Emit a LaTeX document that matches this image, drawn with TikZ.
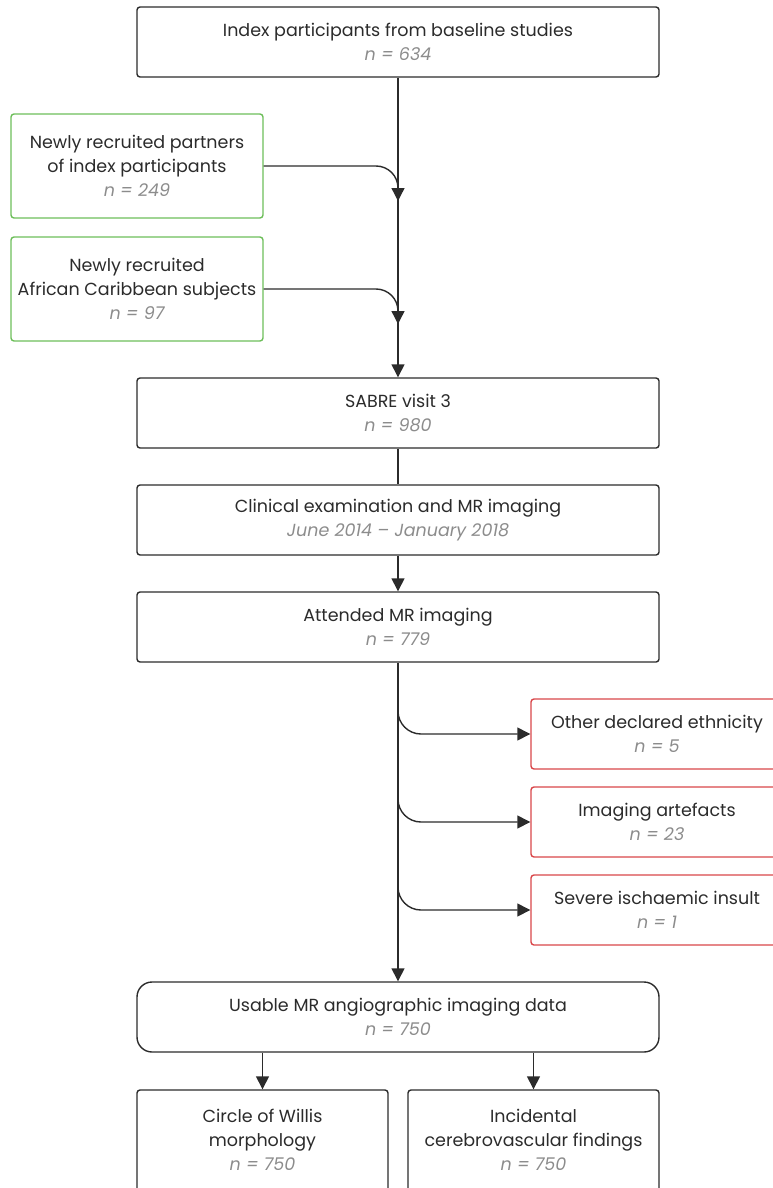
\documentclass[tikz,border=0pt]{standalone}
\usepackage{fontspec}
\setmainfont{Poppins}
\usetikzlibrary{arrows.meta}
\definecolor{ink}{HTML}{2B2B2B}
\definecolor{ngray}{HTML}{8C8C8C}
\definecolor{grn}{HTML}{6DBE5A}
\definecolor{rd}{HTML}{D9474A}
\newcommand{\nval}[1]{\textcolor{ngray}{\itshape #1}}
\begin{document}
\begin{tikzpicture}[x=1pt,y=-1pt,
  every node/.style={font=\fontsize{17.5}{24}\selectfont, text=ink, align=center, inner sep=0pt},
  box/.style={draw=ink, line width=1.4pt, rounded corners=3pt, minimum width=522pt, minimum height=70pt},
  gbox/.style={draw=grn, line width=1.4pt, rounded corners=3pt, minimum width=252pt, minimum height=104pt},
  rbox/.style={draw=rd, line width=1.4pt, rounded corners=3pt, minimum width=252pt, minimum height=70pt},
  sbox/.style={draw=ink, line width=1.4pt, rounded corners=3pt, minimum width=251pt, minimum height=120pt},
  ubox/.style={draw=ink, line width=1.4pt, rounded corners=15pt, minimum width=522pt, minimum height=70pt},
  conn/.style={draw=ink, line width=1.4pt},
  arr/.style={conn, -{Triangle[length=13pt,width=13pt]}}
]
\useasboundingbox (0,0) rectangle (772,1188);
\node[box] (top) at (398,42) {Index participants from baseline studies\\ \nval{n = 634}};
\node[gbox] (g1) at (137,166) {Newly recruited partners\\ of index participants\\ \nval{n = 249}};
\node[gbox] (g2) at (137,289) {Newly recruited\\ African Caribbean subjects\\ \nval{n = 97}};
\node[box] (sabre) at (398,413) {SABRE visit 3\\ \nval{n = 980}};
\node[box] (clin) at (398,520) {Clinical examination and MR imaging\\ \nval{June 2014 – January 2018}};
\node[box] (att) at (398,627) {Attended MR imaging\\ \nval{n = 779}};
\node[rbox] (r1) at (657,734) {Other declared ethnicity\\ \nval{n = 5}};
\node[rbox] (r2) at (657,822) {Imaging artefacts\\ \nval{n = 23}};
\node[rbox] (r3) at (657,910) {Severe ischaemic insult\\ \nval{n = 1}};
\node[ubox] (use) at (398,1017) {Usable MR angiographic imaging data\\ \nval{n = 750}};
\node[sbox] (cw) at (262.5,1150) {};
\node[sbox] (icf) at (533.5,1150) {};
\node (cwt) at (262.5,1140) {Circle of Willis\\ morphology\\ \nval{n = 750}};
\node (icft) at (533.5,1140) {Incidental\\ cerebrovascular findings\\ \nval{n = 750}};
\coordinate (m1) at (398,201);
\coordinate (m2) at (398,324);
\coordinate (b1) at (398,690);
\coordinate (b2) at (398,778);
\coordinate (b3) at (398,866);
\draw[arr] (top.south) -- (sabre.north);
\draw[arr, rounded corners=22pt] (g1.east) -| (m1);
\draw[arr, rounded corners=22pt] (g2.east) -| (m2);
\draw[conn] (sabre.south) -- (clin.north);
\draw[arr] (clin.south) -- (att.north);
\draw[arr] (att.south) -- (use.north);
\draw[arr, rounded corners=23pt] (b1) |- (r1.west);
\draw[arr, rounded corners=23pt] (b2) |- (r2.west);
\draw[arr, rounded corners=23pt] (b3) |- (r3.west);
\draw[arr] (use.south -| cw.north) -- (cw.north);
\draw[arr] (use.south -| icf.north) -- (icf.north);
\end{tikzpicture}
\end{document}
